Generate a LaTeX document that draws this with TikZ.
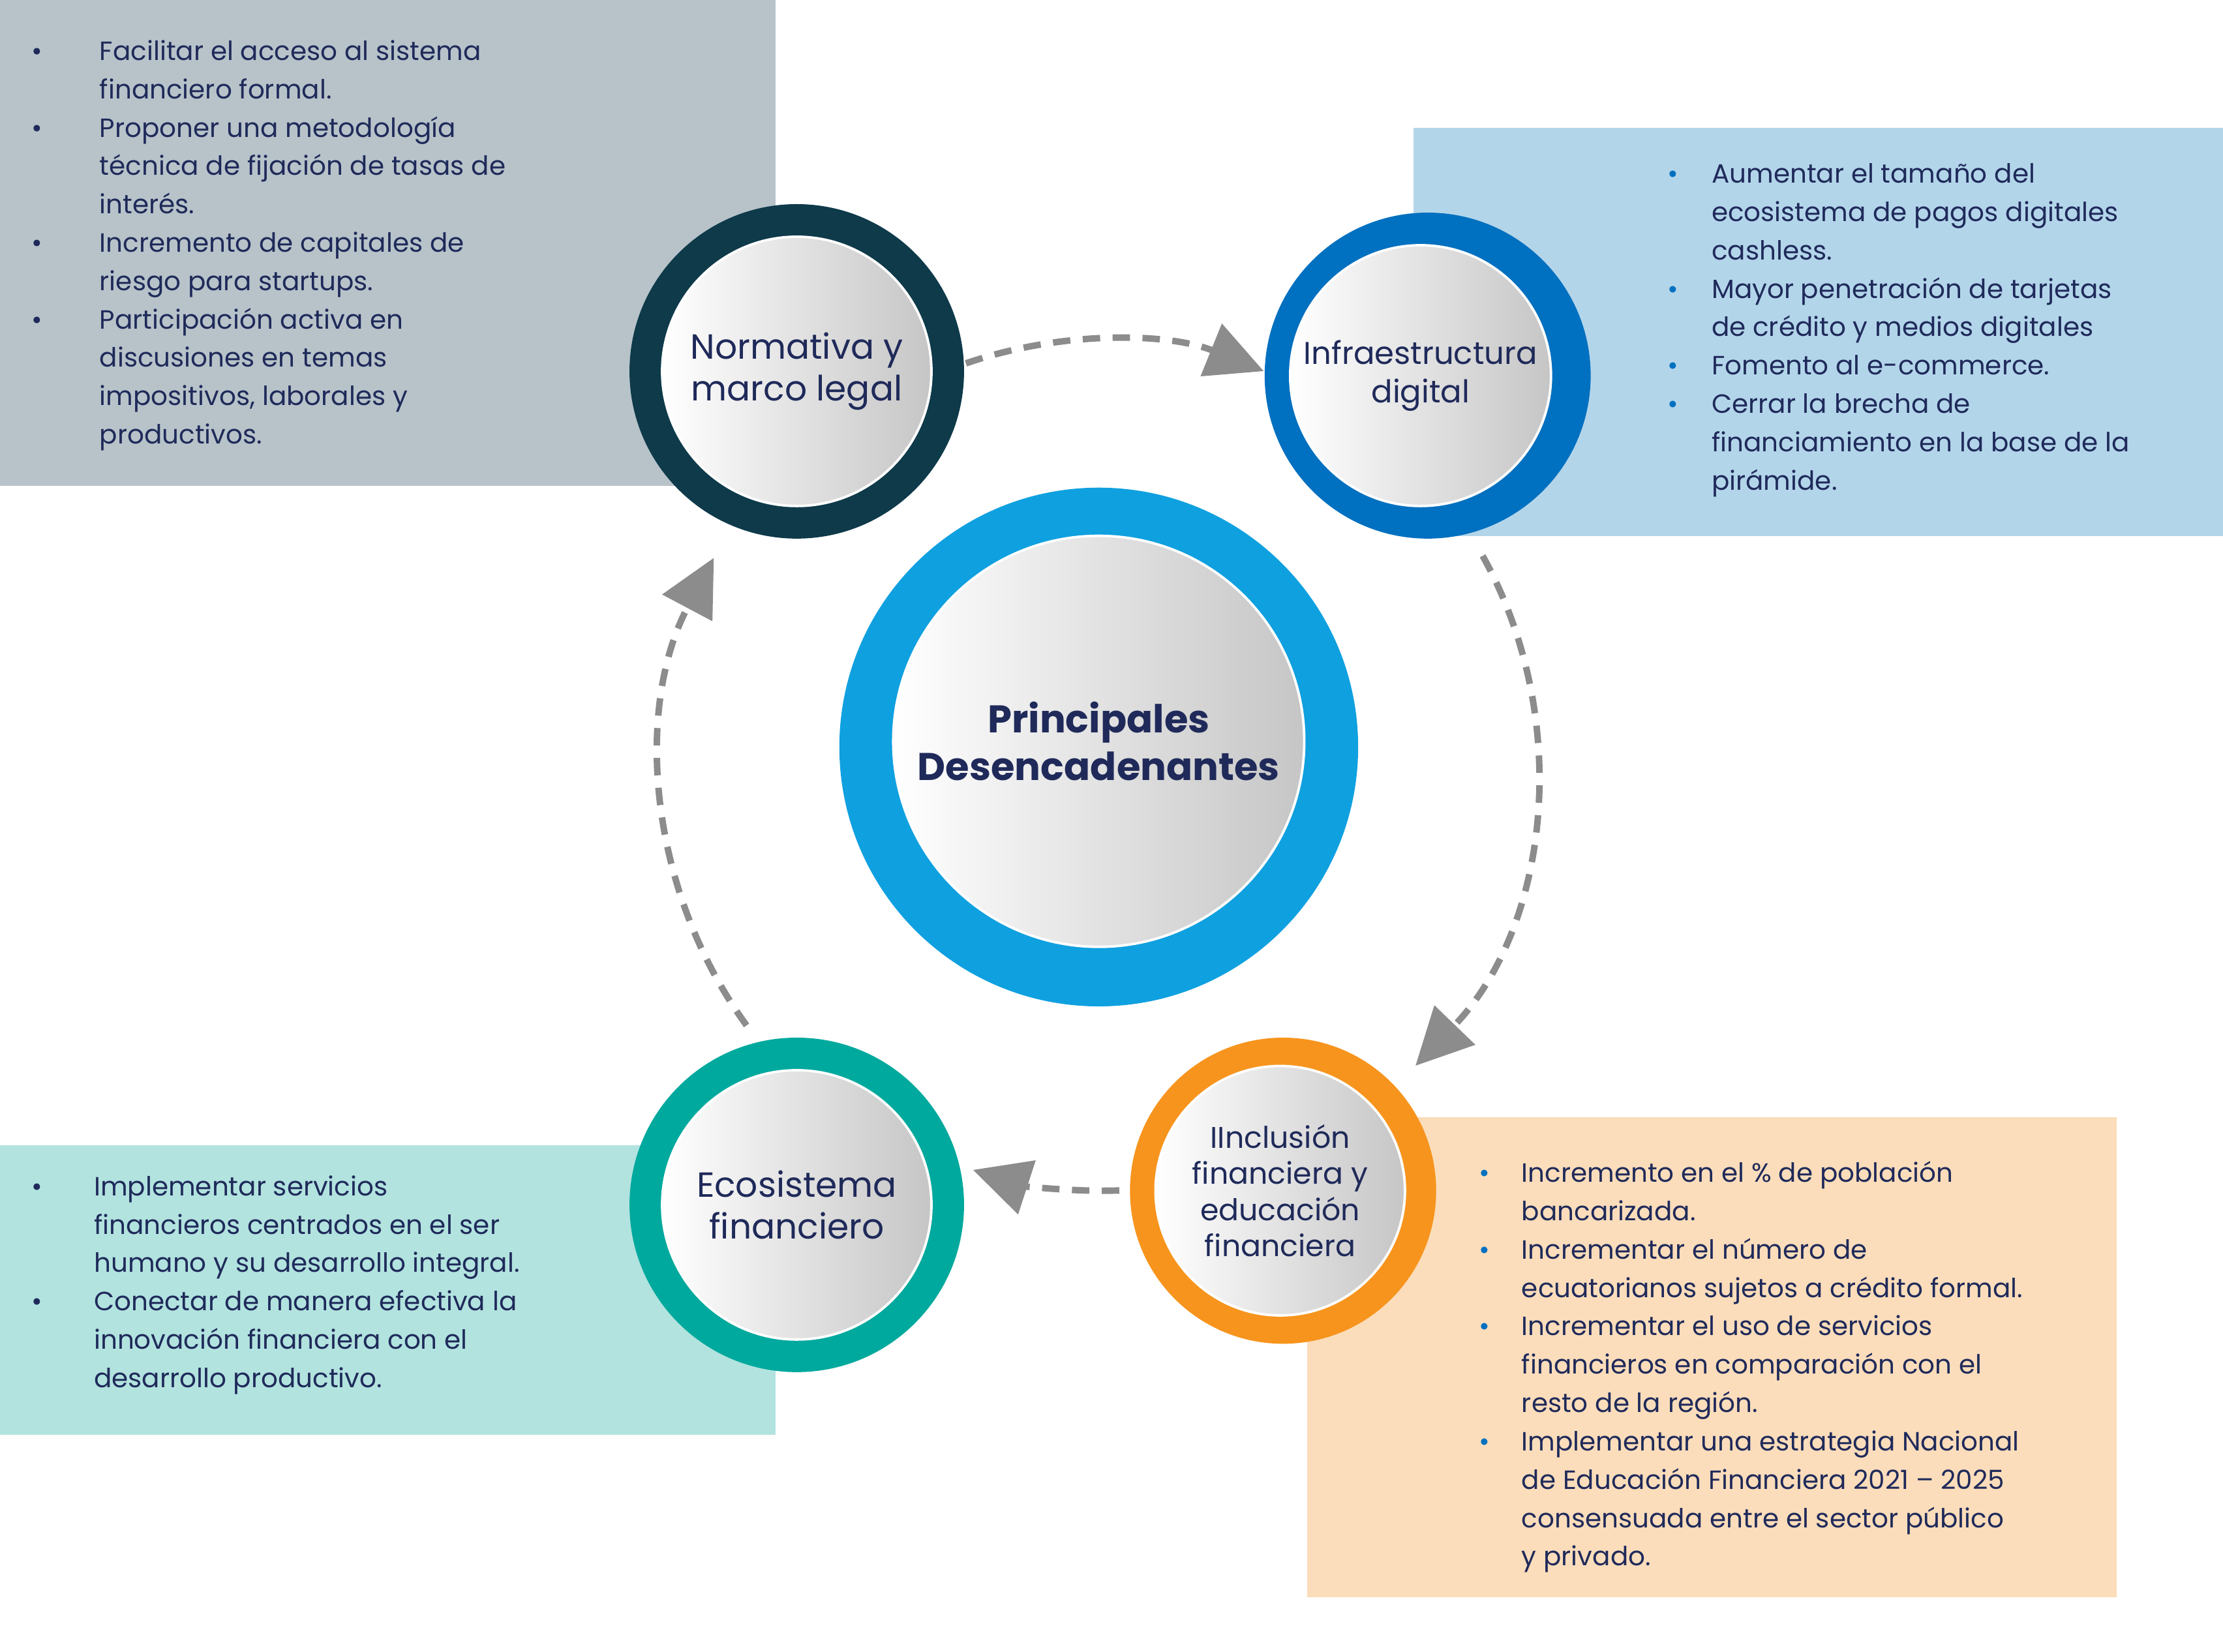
\documentclass[tikz,border=0pt]{standalone}
\usepackage{fontspec}
\setmainfont{Poppins}
\usetikzlibrary{arrows.meta,positioning,calc}
\definecolor{navy}{HTML}{1F2A5A}
\definecolor{graybox}{HTML}{B7C3C9}
\definecolor{bluebox}{HTML}{B3D5EA}
\definecolor{tealbox}{HTML}{B2E3DF}
\definecolor{orangebox}{HTML}{FBDDBB}
\definecolor{ringnorm}{HTML}{0E3A4A}
\definecolor{ringinfra}{HTML}{0070C0}
\definecolor{ringeco}{HTML}{00A99D}
\definecolor{ringincl}{HTML}{F7941D}
\definecolor{ringcore}{HTML}{0FA0E0}
\definecolor{flowgray}{HTML}{8C8C8C}
\newcommand{\bul}[2]{\makebox[#2][l]{\textcolor{#1}{•}}}
\newcommand{\cont}[1]{\hspace*{#1}}
\tikzset{
  ring/.style={circle, fill=#1, inner sep=0pt},
  face/.style={circle, inner sep=0pt, left color=white, right color=gray!45,
    draw=white, line width=1pt, text=navy, align=center},
  listtext/.style={anchor=north west, inner sep=0pt, align=left, text=navy,
    font=\fontsize{10.6}{15.4}\selectfont},
  flow/.style={flowgray, line width=2.6pt, dash pattern=on 7pt off 5pt,
    -{Triangle[length=0.8cm,width=0.78cm]}}
}

\begin{document}
\begin{tikzpicture}[x=0.02cm,y=0.02cm]
  \useasboundingbox (0,0) rectangle (1568,1165);
  % boxes
  \fill[graybox] (0,822) rectangle (547,1165);
  \fill[bluebox] (997,787) rectangle (1568,1075);
  \fill[tealbox] (0,153) rectangle (547,357);
  \fill[orangebox] (922,38) rectangle (1493,377);

  % dashed cycle
  \coordinate (ctr) at (779,625);
  \draw[flow] ($(ctr)+(109:300)$) arc[start angle=109, end angle=68, radius=300];
  \draw[flow] ($(ctr)+(29:305)$) arc[start angle=29, end angle=-44, radius=305];
  \draw[flow] ($(ctr)+(-88:300)$) arc[start angle=-88, end angle=-108, radius=300];
  \draw[flow] ($(ctr)+(216:312)$) arc[start angle=216, end angle=152, radius=312];

  % circles
  \node (norm-r) at (562,903) [ring=ringnorm, minimum size=4.72cm] {};
  \node (norm) at (norm-r) [face, minimum size=3.8cm, font=\fontsize{14}{17}\selectfont] {Normativa y\\marco legal};
  \node (infra-r) at (1007,900) [ring=ringinfra, minimum size=4.6cm] {};
  \node (infra) at (1002,900) [face, minimum size=3.68cm, font=\fontsize{12.6}{15.5}\selectfont] {Infraestructura\\digital};
  \node (eco-r) at (562,315) [ring=ringeco, minimum size=4.72cm] {};
  \node (eco) at (eco-r) [face, minimum size=3.8cm, font=\fontsize{14}{17}\selectfont] {Ecosistema\\financiero};
  \node (incl-r) at (905,325) [ring=ringincl, minimum size=4.32cm] {};
  \node (incl) at (903,325) [face, minimum size=3.52cm, font=\fontsize{12}{14.5}\selectfont] {IInclusión\\financiera y\\educación\\financiera};
  \node (core-r) at (775,638) [ring=ringcore, minimum size=7.32cm] {};
  \node (core) at (775,642) [face, minimum size=5.8cm, font=\fontsize{15.5}{19}\selectfont\bfseries] {Principales\\Desencadenantes};

  % lists
  \node (norm-list) at (22,1137) [listtext] {%
    \bul{navy}{0.96cm}Facilitar el acceso al sistema\\
    \cont{0.96cm}financiero formal.\\
    \bul{navy}{0.96cm}Proponer una metodología\\
    \cont{0.96cm}técnica de fijación de tasas de\\
    \cont{0.96cm}interés.\\
    \bul{navy}{0.96cm}Incremento de capitales de\\
    \cont{0.96cm}riesgo para startups.\\
    \bul{navy}{0.96cm}Participación activa en\\
    \cont{0.96cm}discusiones en temas\\
    \cont{0.96cm}impositivos, laborales y\\
    \cont{0.96cm}productivos.};
  \node (infra-list) at (1176,1050) [listtext] {%
    \bul{ringinfra}{0.62cm}Aumentar el tamaño del\\
    \cont{0.62cm}ecosistema de pagos digitales\\
    \cont{0.62cm}cashless.\\
    \bul{ringinfra}{0.62cm}Mayor penetración de tarjetas\\
    \cont{0.62cm}de crédito y medios digitales\\
    \bul{ringinfra}{0.62cm}Fomento al e-commerce.\\
    \bul{ringinfra}{0.62cm}Cerrar la brecha de\\
    \cont{0.62cm}financiamiento en la base de la\\
    \cont{0.62cm}pirámide.};
  \node (eco-list) at (22,336) [listtext] {%
    \bul{navy}{0.88cm}Implementar servicios\\
    \cont{0.88cm}financieros centrados en el ser\\
    \cont{0.88cm}humano y su desarrollo integral.\\
    \bul{navy}{0.88cm}Conectar de manera efectiva la\\
    \cont{0.88cm}innovación financiera con el\\
    \cont{0.88cm}desarrollo productivo.};
  \node (incl-list) at (1043,346) [listtext] {%
    \bul{ringinfra}{0.6cm}Incremento en el \% de población\\
    \cont{0.6cm}bancarizada.\\
    \bul{ringinfra}{0.6cm}Incrementar el número de\\
    \cont{0.6cm}ecuatorianos sujetos a crédito formal.\\
    \bul{ringinfra}{0.6cm}Incrementar el uso de servicios\\
    \cont{0.6cm}financieros en comparación con el\\
    \cont{0.6cm}resto de la región.\\
    \bul{ringinfra}{0.6cm}Implementar una estrategia Nacional\\
    \cont{0.6cm}de Educación Financiera 2021 – 2025\\
    \cont{0.6cm}consensuada entre el sector público\\
    \cont{0.6cm}y privado.};
\end{tikzpicture}
\end{document}
